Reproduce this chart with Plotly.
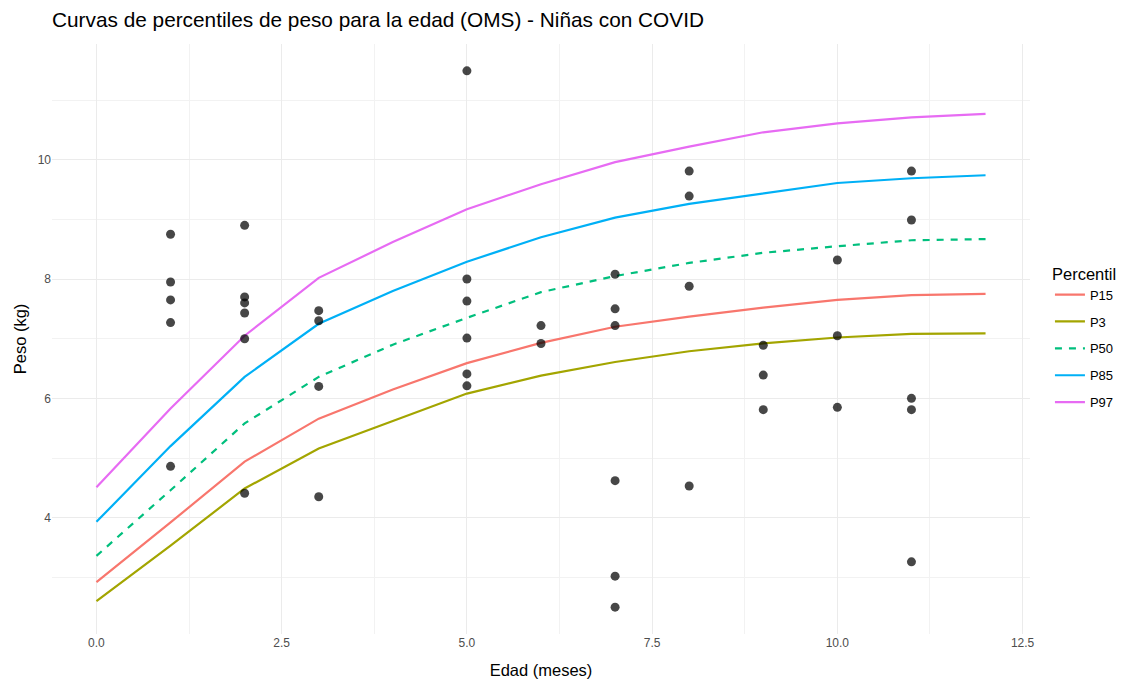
import plotly.graph_objects as go

# Edad en meses para las curvas de referencia
edad_meses = [0, 1, 2, 3, 4, 5, 6, 7, 8, 9, 10, 11, 12]

# Curvas de percentiles de peso (kg)
p3 = [2.60, 3.53, 4.49, 5.16, 5.62, 6.08, 6.38, 6.61, 6.79, 6.92, 7.02, 7.08, 7.09]
p15 = [2.92, 3.92, 4.94, 5.66, 6.15, 6.59, 6.93, 7.20, 7.37, 7.52, 7.65, 7.73, 7.75]
p50 = [3.36, 4.46, 5.58, 6.36, 6.90, 7.35, 7.78, 8.05, 8.27, 8.44, 8.55, 8.65, 8.67]
p85 = [3.93, 5.20, 6.36, 7.25, 7.80, 8.29, 8.70, 9.03, 9.26, 9.44, 9.61, 9.69, 9.74]
p97 = [4.51, 5.83, 7.05, 8.02, 8.62, 9.17, 9.59, 9.96, 10.22, 10.46, 10.61, 10.71, 10.77]

# Niñas con COVID: edad (meses) y peso (kg)
ninas_edad = [1, 1, 1, 1, 1,
              2, 2, 2, 2, 2, 2,
              3, 3, 3, 3,
              5, 5, 5, 5, 5, 5,
              6, 6,
              7, 7, 7, 7, 7, 7,
              8, 8, 8, 8,
              9, 9, 9,
              10, 10, 10,
              11, 11, 11, 11, 11]
ninas_peso = [8.75, 7.95, 7.65, 7.27, 4.86,
              8.90, 7.70, 7.60, 7.43, 7.00, 4.41,
              7.47, 7.30, 6.20, 4.35,
              11.49, 8.00, 7.63, 7.01, 6.41, 6.21,
              7.22, 6.92,
              8.08, 7.50, 7.22, 4.62, 3.02, 2.50,
              9.81, 9.39, 7.88, 4.53,
              6.89, 6.39, 5.81,
              8.32, 7.05, 5.85,
              9.81, 8.99, 6.00, 5.81, 3.26]

# Orden de la leyenda y estilo de cada percentil
percentiles = ["P15", "P3", "P50", "P85", "P97"]
valores = {"P15": p15, "P3": p3, "P50": p50, "P85": p85, "P97": p97}
colores = {"P15": "#F8766D", "P3": "#A3A500", "P50": "#00BF7D",
           "P85": "#00B0F6", "P97": "#E76BF3"}
trazo = {"P15": "solid", "P3": "solid", "P50": "7px,7px", "P85": "solid", "P97": "solid"}

fig = go.Figure()

for p in percentiles:
    fig.add_trace(go.Scatter(
        x=edad_meses, y=valores[p], mode="lines", name=p,
        legendgroup=p,
        line=dict(color=colores[p], width=2.2, dash=trazo[p]),
    ))

fig.add_trace(go.Scatter(
    x=ninas_edad, y=ninas_peso, mode="markers", showlegend=False,
    marker=dict(color="rgba(0,0,0,0.72)", size=9, line=dict(width=0)),
))

fuente = "Liberation Sans, Arial, sans-serif"
grid_mayor = "#EBEBEB"
grid_menor = "#F2F2F2"

fig.update_layout(
    width=1123, height=679,
    paper_bgcolor="white", plot_bgcolor="white",
    margin=dict(l=52, r=93, t=44, b=45, autoexpand=False),
    font=dict(family=fuente, color="#000000"),
    title=dict(
        text="Curvas de percentiles de peso para la edad (OMS) - Niñas con COVID",
        x=52 / 1123, xanchor="left", xref="container",
        y=1 - 20 / 679, yanchor="middle",
        font=dict(size=20.8, color="#000000", family=fuente),
    ),
    legend=dict(
        title=dict(text="Percentil", font=dict(size=16.5, color="#000000")),
        x=1.0204, xanchor="left", y=0.637, yanchor="top",
        font=dict(size=13, color="#000000"),
        tracegroupgap=7,
        bgcolor="rgba(0,0,0,0)",
    ),
    showlegend=True,
)

fig.update_xaxes(
    range=[-0.6, 12.6],
    tickmode="array",
    tickvals=[0, 2.5, 5, 7.5, 10, 12.5],
    ticktext=["0.0", "2.5", "5.0", "7.5", "10.0", "12.5"],
    showgrid=True, gridcolor=grid_mayor, gridwidth=1.3,
    minor=dict(tickmode="array", tickvals=[1.25, 3.75, 6.25, 8.75, 11.25],
               showgrid=True, gridcolor=grid_menor, gridwidth=1),
    zeroline=False, showline=False, ticks="",
    tickfont=dict(size=12, color="#4D4D4D"),
    title=dict(text="Edad (meses)", font=dict(size=16.5, color="#000000"), standoff=19),
)

fig.update_yaxes(
    range=[2.05, 11.94],
    tickmode="array",
    tickvals=[4, 6, 8, 10],
    ticktext=["4", "6", "8", "10"],
    showgrid=True, gridcolor=grid_mayor, gridwidth=1.3,
    minor=dict(tickmode="array", tickvals=[3, 5, 7, 9, 11],
               showgrid=True, gridcolor=grid_menor, gridwidth=1),
    zeroline=False, showline=False, ticks="",
    tickfont=dict(size=12, color="#4D4D4D"),
    title=dict(text="Peso (kg)", font=dict(size=16.5, color="#000000"), standoff=6),
)

fig.write_html("out.html")
